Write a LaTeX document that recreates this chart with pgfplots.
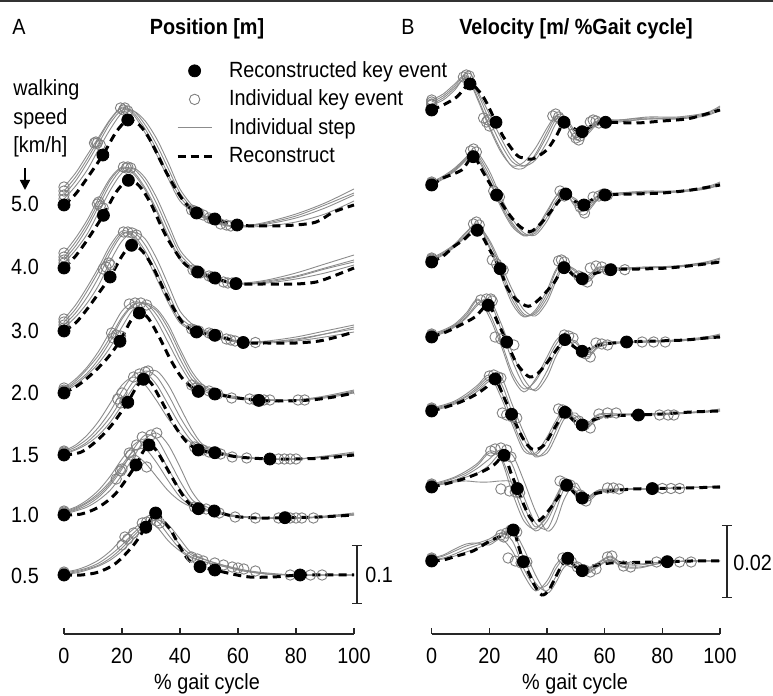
\documentclass[border=0pt]{standalone}
\usepackage{fontspec}
\setmainfont{Liberation Sans}[FakeStretch=0.9]
\usepackage{pgfplots}
\pgfplotsset{compat=1.18}
\usepackage{pgfplotstable}
\usetikzlibrary{arrows.meta}

\newcommand\fs{\fontsize{11}{13}\selectfont}

% ---------- Position (A), values in px above each speed's baseline ----------
\pgfplotstableread{
x g1 g2 g3 g4
0 18 10 6 14
4 32 24 19 28
8 50 42 35 46
12 68 62 56 66
16 86 82 76 85
20 98 95 92 97
24 92 94 94 90
28 76 80 84 72
32 55 60 66 50
36 30 36 42 26
40 8 12 16 4
45 -7 -5 -3 -8
50 -14 -13 -13 -15
56 -20 -20 -20 -21
62 -21 -21 -22 -21
70 -17 -19 -21 -18
80 -9 -13 -17 -11
90 2 -3 -9 0
100 16 10 4 12
}\AfiveG
\pgfplotstableread{
x y
0 0
4 11
8 27
13.4 50
18 73
22 85
26 80
29.7 65
35.4 32
41 5
45.7 -8
52 -14
59.7 -20
70 -21
80 -20
87 -17
93 -7
100 0
}\AfiveR
\pgfplotstableread{
x y
0 0
13.4 50
22 85
45.7 -8
52 -14
59.7 -20
}\AfiveF
\pgfplotstableread{
x y
0 18
0 10
0 6
0 14
11 63
11.5 62
12.5 60
10.5 62
19.5 97
20.5 95
22 94
21 97
44 -5
45 -6
46.5 -8
48 -10
50 -13
51 -14
52.5 -15
54 -19
56 -20
57.5 -21
}\AfiveO

\pgfplotstableread{
x g1 g2 g3 g4
0 15 8 5 11
4 30 22 18 26
8 48 40 34 44
12 70 62 56 66
16 90 84 78 88
20 101 99 95 100
24 96 99 100 94
28 80 86 90 78
32 58 64 70 56
36 32 38 44 30
40 10 14 18 8
45 -3 -1 2 -4
50 -9 -8 -7 -10
56 -14 -14 -14 -15
62 -15 -16 -16 -16
70 -12 -13 -15 -14
80 -5 -8 -11 -9
90 4 0 -5 -1
100 13 8 3 6
}\AfourG
\pgfplotstableread{
x y
0 0
4 12
8 28
13.6 53
18 76
22.2 88
26 82
30 64
35 33
41 6
46.1 -4
52 -10
59.3 -15.6
70 -16
80 -16
87 -14
93 -8
100 0
}\AfourR
\pgfplotstableread{
x y
0 0
13.6 52.7
22.2 87.7
46.1 -4
52 -10
59.3 -15.6
}\AfourF
\pgfplotstableread{
x y
0 15
0 8
0 5
0 11
12 66
12.5 62
13.5 60
11.5 64
20.5 101
21.5 100
23 100
22 101
44.5 -2
45.5 -3
47 -5
50 -8
51 -9
52.5 -11
55 -14
56.5 -15
58 -15
}\AfourO

\pgfplotstableread{
x g1 g2 g3 g4
0 12 6 3 9
4 26 18 14 22
8 44 34 28 40
12 64 54 46 60
16 86 78 70 82
20 100 96 90 98
24 96 99 99 94
28 80 86 92 76
32 58 64 72 52
36 32 38 46 28
40 10 14 20 8
45 1 3 5 0
50 -3 -2 -1 -3
56 -8 -8 -7 -9
62 -11 -11 -11 -12
70 -10 -11 -12 -11
80 -6 -8 -10 -9
90 0 -3 -6 -3
100 6 2 -1 4
}\AthreeG
\pgfplotstableread{
x y
0 0
4 8
8 22
12 38
15.9 54
20 75
23.3 86
27 80
31 62
36 32
41 8
45.7 -1
52 -4.3
61.8 -11.5
70 -12
80 -12
88 -10
94 -6
100 -1
}\AthreeR
\pgfplotstableread{
x y
0 0
15.9 54
23.3 85.7
45.7 -1
52 -4.3
61.8 -11.5
}\AthreeF
\pgfplotstableread{
x y
0 12
0 6
0 3
0 9
13.5 62
14.5 64
15.5 68
16 66
20.5 99
22 99
23.5 98
25 96
44 2
45 1
46.5 0
50 -2
51 -3
53 -4
56 -8
57.5 -9
59 -10
66 -11.5
}\AthreeO

\pgfplotstableread{
x g1 g2 g3 g4
0 5 2 3 1
4 14 10 12 8
8 26 20 24 18
12 42 34 38 30
16 62 52 56 46
20 82 74 76 66
24 91 88 89 84
28 88 90 89 90
32 72 78 82 84
36 50 58 64 68
40 28 34 40 44
44 10 14 18 22
48 2 4 6 8
54 -3 -2 -1 0
60 -6 -5 -5 -4
70 -7 -7 -7 -7
80 -7 -7 -7 -7
90 -4 -4 -3 -5
100 2 1 3 0
}\AtwoG
\pgfplotstableread{
x y
0 0
5 8
10 20
15 35
19.3 52
23 72
26 80
29 75
33 55
37 32
41 14
46.3 1.6
52 -1
60 -5
67.2 -7.4
75 -8
85 -7
93 -4
100 0
}\AtwoR
\pgfplotstableread{
x y
0 0
19.3 51.7
26 80
46.3 1.6
52 -1
67.2 -7.4
}\AtwoF
\pgfplotstableread{
x y
0 5
0 2
0 3
0 1
16.4 60
18 58
19.5 57
17 55
22.5 89
24.5 90
26.5 90
28.5 88
44 8
45.5 5
47 4
50 2
51.5 0
53 -1
57.8 -5
64 -6
66 -7
69 -7
71 -7
80.7 -7
83 -7
}\AtwoO

\pgfplotstableread{
x g1 g2 g3 g4
0 3 2 4 1
4 8 6 10 5
8 16 13 20 11
12 28 24 34 20
16 44 38 52 33
20 64 56 70 50
24 80 74 78 68
28 82 84 70 82
32 70 78 54 84
36 50 60 36 70
40 30 38 22 48
44 14 20 12 26
48 6 8 6 10
54 1 2 1 3
60 -2 -2 -2 -1
70 -4 -4 -4 -4
80 -4 -4 -4 -4
90 -2 -2 -1 -2
100 2 1 3 0
}\AofG
\pgfplotstableread{
x y
0 0
6 3
12 16
17 32
22 53
25 68
27.4 76
30 72
34 52
38 30
42 14
46.3 5
52 2.3
60 -2
71 -4
80 -4
90 -3
100 0
}\AofR
\pgfplotstableread{
x y
0 0
22 52.7
27.4 75.7
46.3 5
52 2.3
71 -4
}\AofF
\pgfplotstableread{
x y
0 3
0 2
0 4
0 1
18.5 56
19.5 52
21 54
20 62
24 78
26 81
28 83
29 84
45 8
46.5 6
48 5
50 3
52.5 2
54 1
58 -2
63 -3
74 -4
76 -4
78 -4
80 -4
}\AofO

\pgfplotstableread{
x g1 g2 g3 g4 g5
0 3 2 4 1 2
4 7 5 8 4 6
8 13 10 15 8 12
12 22 18 25 15 20
16 34 30 39 25 32
20 50 46 56 40 48
24 64 66 70 58 60
28 66 80 76 76 52
32 52 76 66 82 38
36 34 56 46 70 24
40 18 34 26 48 14
44 9 16 12 24 8
48 5 7 6 10 5
54 1 2 1 3 2
60 -2 -2 -2 -1 -1
70 -3 -3 -3 -3 -3
80 -3 -3 -3 -3 -3
90 -2 -2 -1 -2 -2
100 1 0 2 0 1
}\AoneG
\pgfplotstableread{
x y
0 0
6 1
12 8
18 22
24.8 50
27 62
29.3 70
32 64
36 44
40 24
43 12
46.3 6.3
51.8 4
58 -1
66 -3
76.2 -2.7
88 -2
100 0
}\AoneR
\pgfplotstableread{
x y
0 0
24.8 50
29.3 70
46.3 6.3
51.8 4
76.2 -2.7
}\AoneF
\pgfplotstableread{
x y
0 3
0 2
0 4
0 1
18 36
19.5 44
20 46
22.5 62
25 70
27 78
30 80
32 82
28.5 48
23 60
45 8
47 6
49 6
52 3
53.5 2
59 -2
66 -3
74 -3
78 -3
80 -3
82 -3
86 -3
}\AoneO

\pgfplotstableread{
x g1 g2 g3 g4
0 2 1 3 1
4 4 2 5 3
8 7 5 9 6
12 12 9 15 10
16 20 15 24 17
20 30 24 36 27
24 42 36 46 39
28 52 48 54 50
32 54 56 48 55
36 40 46 34 50
40 26 30 24 36
44 18 20 17 22
50 12 14 12 14
56 8 9 8 9
62 4 5 4 5
70 1 1 1 2
80 0 0 0 0
90 0 0 0 0
100 0 0 0 0
}\AhalfG
\pgfplotstableread{
x y
0 0
6 0
12 3
18 12
24 30
28.2 48
31.6 62
34 55
37 44
40 28
43 15
46.9 8.3
52 5
58 1
64 -2
72 -2
81.4 0
90 0
100 0
}\AhalfR
\pgfplotstableread{
x y
0 0
28.2 47.7
31.6 62
46.9 8.3
52 5
81.4 0
}\AhalfF
\pgfplotstableread{
x y
0 2
0 1
0 3
20 30
22 36
24 42
21 38
27 52
28.5 53
30 55
32 54
33 52
44 18
46 16
48 14
52 12
55 10
58 8
60 7
62 6
66 4
78 0
81 0
85 0
89 0
}\AhalfO

% ---------- Velocity (B), values in px above each speed's baseline ----------
\pgfplotstableread{
x g1 g2 g3 g4
0 8 5 10 6
4 14 10 16 12
8 24 20 26 22
12 34 33 35 32
16 10 16 12 18
20 -18 -10 -16 -4
24 -42 -34 -40 -28
28 -56 -52 -57 -48
32 -52 -56 -58 -56
36 -38 -46 -44 -50
40 -18 -26 -22 -32
43 -6 -10 -7 -14
46 -12 -8 -10 -6
50 -28 -24 -30 -22
54 -18 -22 -20 -24
58 -11 -12 -10 -13
65 -10 -11 -10 -12
75 -8 -9 -7 -9
85 -8 -8 -7 -9
95 -4 -5 -3 -6
100 3 1 4 0
}\BfiveG
\pgfplotstableread{
x y
0 0
4 5
8.7 13
13.3 26
17.9 13
22.3 -12.3
24.9 -27
29.5 -45
32 -48
35 -49
39.9 -40
43.4 -25
45.9 -12.3
49 -18
52.2 -21.7
56 -15
60.3 -12.3
71 -13
80 -11
88.4 -9
94 -5
100 0
}\BfiveR
\pgfplotstableread{
x y
0 0
13.3 26
22.3 -12.3
45.9 -12.3
52.2 -21.7
60.3 -12.3
}\BfiveF
\pgfplotstableread{
x y
0 8
0 5
0 10
0 6
11 33
12 35
12.5 32
13 34
18 -8
19 -12
20 -16
19.5 -10
42 -6
43 -4
44 -7
44.5 -9
49 -24
50 -28
51 -30
51.5 -26
55 -12
56 -10
57 -11
58 -13
}\BfiveO

\pgfplotstableread{
x g1 g2 g3 g4
0 3 1 2 0
4 9 7 8 6
8 17 15 16 14
12 28 26 27 25
14 34 33 35 32
16 26 30 28 32
20 4 10 6 14
24 -22 -16 -20 -12
28 -42 -38 -40 -34
32 -50 -50 -51 -48
36 -44 -48 -46 -50
40 -26 -32 -28 -36
43 -12 -16 -12 -20
46 -7 -8 -6 -10
50 -20 -16 -22 -14
54 -22 -24 -20 -26
58 -11 -13 -10 -14
65 -8 -9 -8 -10
75 -7 -7 -6 -8
85 -6 -7 -6 -7
95 -3 -4 -2 -4
100 2 1 3 0
}\BfourG
\pgfplotstableread{
x y
0 0
4 7
10.4 15
14.4 28.3
18 12
22.5 -10
26 -26
30 -40
34.1 -46.7
38 -38
42 -24
46.5 -9
49.5 -16
52.8 -20
56 -14
60.1 -10
70 -9
80 -8
90 -5
100 0
}\BfourR
\pgfplotstableread{
x y
0 0
14.4 28.3
22.5 -10
46.5 -9
52.8 -20
60.1 -10
}\BfourF
\pgfplotstableread{
x y
0 3
0 1
0 2
13.5 34
14.5 36
15.5 33
21.5 -6
22.5 -10
23.5 -12
44.5 -6
45.5 -9
46 -11
51.5 -22
52.5 -25
53 -28
56 -12
58 -11
59.5 -9
61 -10
}\BfourO

\pgfplotstableread{
x g1 g2 g3 g4
0 4 2 3 1
4 10 8 9 7
8 18 16 17 15
12 30 27 29 26
16 38 37 39 36
20 16 20 14 22
24 -10 -6 -14 -2
28 -38 -34 -42 -28
32 -54 -52 -55 -48
36 -50 -52 -48 -54
40 -32 -36 -28 -40
43 -10 -16 -8 -20
46 0 -2 1 -4
50 -14 -10 -16 -8
54 -16 -18 -14 -20
58 -6 -8 -5 -10
65 -6 -7 -6 -8
75 -5 -6 -5 -6
85 -4 -5 -4 -5
95 -1 -2 0 -2
100 3 1 4 0
}\BthreeG
\pgfplotstableread{
x y
0 0
4 6
7.5 15
11 22
15.8 31.7
20.2 11.7
23.7 -6.7
26 -25
29.5 -38
33.5 -44.3
37 -38
42.2 -21.6
45.9 -5.7
49 -13
52.2 -16.7
56 -12
62.1 -7.7
72 -7
82 -6
92 -3
100 0
}\BthreeR
\pgfplotstableread{
x y
0 0
15.8 31.7
23.7 -6.7
45.9 -5.7
52.2 -16.7
62.1 -7.7
}\BthreeF
\pgfplotstableread{
x y
0 4
0 2
0 3
14.5 38
15.5 40
16.5 37
21 2
22.5 -2
24 -6
24.8 -8
44 1
45 2
46 0
51 -14
52.5 -18
54 -20
55 -6
57 -4
59 -5
61 -8
67 -7.7
}\BthreeO

\pgfplotstableread{
x g1 g2 g3 g4
0 2 1 3 0
4 6 5 7 4
8 12 11 13 10
12 22 20 24 19
16 37 34 38 32
20 24 36 20 38
24 -4 8 -8 14
28 -36 -24 -40 -16
32 -52 -48 -55 -42
36 -44 -52 -42 -54
40 -24 -34 -20 -40
43 -8 -14 -4 -20
46 1 -2 2 -6
50 -10 -6 -12 -4
54 -16 -18 -14 -20
58 -7 -9 -6 -10
65 -5 -6 -5 -6
75 -4 -5 -4 -5
85 -3 -4 -3 -4
95 -1 -2 0 -2
100 2 0 3 0
}\BtwoG
\pgfplotstableread{
x y
0 0
5 5
10 12
15 20
19.6 31.7
23 14
26 -5
29 -24
31.5 -34
34.1 -40
37 -36
41 -22
43.5 -12
46.2 -2.6
49 -9
52.2 -14.3
56 -10
60 -7
67.6 -5
78 -4
88 -3
95 -1
100 0
}\BtwoR
\pgfplotstableread{
x y
0 0
19.6 31.7
26 -5
46.2 -2.6
52.2 -14.3
67.6 -5
}\BtwoF
\pgfplotstableread{
x y
0 2
0 1
0 3
17 37
19 38
20.5 38
21 36
22 0
24 -2
26 -6
28.5 -8
46 2
47.5 1
49 -1
52 -14
53.5 -17
55 -20
57 -6
59 -7
61 -8
73 -5
77 -5
81 -5
}\BtwoO

\pgfplotstableread{
x g1 g2 g3 g4
0 2 1 3 0
4 5 4 6 3
8 9 8 10 7
12 15 14 17 12
16 24 22 26 20
20 34 32 36 30
24 20 28 14 34
28 -10 -2 -14 6
32 -36 -28 -40 -22
36 -44 -46 -42 -44
40 -30 -38 -26 -42
43 -14 -20 -10 -26
46 0 -4 2 -8
50 -8 -5 -10 -2
54 -14 -16 -12 -16
58 -4 -6 -3 -7
65 -3 -4 -3 -4
75 -3 -3 -3 -4
85 -2 -2 -2 -3
95 -1 -1 0 -1
100 1 0 2 0
}\BofG
\pgfplotstableread{
x y
0 0
5 4
10 9
15 16
19 24
22 32
25 14
27.7 -3.3
31 -24
33.5 -35
35.8 -39
39 -34
42 -20
44.5 -8
46.2 -1.3
49 -9
52.2 -14
56 -9
62 -5
71.7 -4
80 -3
90 -1
100 0
}\BofR
\pgfplotstableread{
x y
0 0
22 32
27.7 -3.3
46.2 -1.3
52.2 -14
71.7 -4
}\BofF
\pgfplotstableread{
x y
0 2
0 1
0 3
20 35
21.5 36
23 34
24 33
24.5 -2
26 -4
28 -6
29.5 -7
44 2
45.5 1
47 -2
51 -10
53 -14
55 -17
58 -3
61 -2
64 -2
79 -4
82 -4
84 -4
}\BofO

\pgfplotstableread{
x g1 g2 g3 g4 g5
0 2 1 3 0 1
4 5 4 6 3 3
8 9 7 10 6 5
12 14 12 16 10 6
16 22 19 24 14 5
20 34 28 36 22 5
24 28 37 30 34 6
28 -6 22 2 32 4
32 -34 -10 -28 6 -20
36 -42 -36 -44 -24 -40
40 -28 -42 -34 -44 -30
43 -10 -24 -16 -36 -12
46 4 -2 2 -12 3
50 -4 0 -6 4 -5
54 -11 -12 -10 -14 -10
58 -4 -5 -3 -6 -3
65 -2 -2 -2 -3 -2
75 -2 -2 -2 -2 -2
85 -1 -1 -1 -1 -1
95 0 0 0 0 0
100 1 0 1 0 1
}\BoneG
\pgfplotstableread{
x y
0 0
6 4
12 9
18 16
22 23
25.1 31.7
27.5 14
29.7 -1.6
32 -18
34 -30
35.8 -35
38 -32
41 -22
44 -10
46.8 1.7
49.5 -6
52.2 -11
56 -7
62 -4
70 -2
76.5 -1.6
88 -1
100 0
}\BoneR
\pgfplotstableread{
x y
0 0
25.1 31.7
29.7 -1.6
46.8 1.7
52.2 -11
76.5 -1.6
}\BoneF
\pgfplotstableread{
x y
0 2
0 1
0 3
20.5 36
22 38
24 39
26 37
27.5 30
24 -2
27 -4
29 -5
30.5 -6
44.5 6
46 4
48 2
51.5 -8
52.5 -12
53.5 -14
61 -1
63 -1
65 -2
77 -1.5
80 -1.5
83 -1.5
86 -1.5
}\BoneO

\pgfplotstableread{
x g1 g2 g3 g4
0 2 1 3 0
4 5 3 6 2
8 10 7 12 5
12 15 12 17 9
16 18 16 18 13
20 22 20 16 18
24 28 25 22 24
28 20 30 10 31
32 -8 2 -14 12
36 -26 -22 -30 -14
40 -24 -30 -20 -32
43 -8 -16 -4 -22
46 2 -2 3 -6
50 -6 -4 -7 -1
54 -9 -11 -8 -12
58 -2 -4 -1 -5
62 4 2 5 1
66 -3 -5 -2 -6
72 -4 -6 -3 -7
80 -1 -2 -1 -2
90 0 0 0 0
100 0 0 0 0
}\BhalfG
\pgfplotstableread{
x y
0 0
4 1
8.7 5
14.3 10
20.2 20
24.8 26
28.3 31
30 16
31.8 -0.7
34 -14
36 -26
38.2 -34
40.5 -30
43 -16
45 -5
47.2 2.7
49.5 -5
52.2 -9.7
56 -5
62 -2
70 -1.5
81.7 -0.7
90 0
100 0
}\BhalfR
\pgfplotstableread{
x y
0 0
28.3 31
31.8 -0.7
47.2 2.7
52.2 -9.7
81.7 -0.7
}\BhalfF
\pgfplotstableread{
x y
0 2
0 1
0 3
24 26
26 28
27.5 31
29.5 29
25 24
26.5 3
29 0
31 -2
33 -1
45.5 3
47 1
48.5 -1
50.5 -6
53 -9
55 -11
57 -8
61 4
62.5 5
66.5 -5
69 -6
78 -1
82 -1
86 -1
90 -1
}\BhalfO

\pgfplotsset{
  gl/.style={color=black!45, line width=0.45pt, smooth, no markers},
  om/.style={only marks, mark=o, mark size=2.6pt, color=black!50, mark options={line width=0.45pt}},
  rl/.style={black, line width=1.5pt, dash pattern=on 4pt off 2.6pt, smooth, no markers},
  fm/.style={only marks, mark=*, mark size=3pt, black},
  panel/.style={
    scale only axis, height=299pt,
    xmin=0, xmax=100, ymin=62, ymax=660,
    axis y line=none, axis x line=bottom,
    axis line style={-, line width=0.75pt, black!85},
    xtick={0,20,40,60,80,100},
    tick align=inside, major tick length=3pt,
    tick style={line width=0.75pt, black!85},
    ticklabel style={font=\fs},
    xticklabel style={yshift=-3.5pt},
    /pgf/number format/assume math mode=true,
    clip=false,
  },
}

% one speed: individual steps, their key events, reconstruct, its key events
\newcommand\pnl[5]{%
  \addplot[gl, forget plot] table[x=x, y expr=\thisrow{g1}+#5] {#1};
  \addplot[gl, forget plot] table[x=x, y expr=\thisrow{g2}+#5] {#1};
  \addplot[gl, forget plot] table[x=x, y expr=\thisrow{g3}+#5] {#1};
  \addplot[gl, forget plot] table[x=x, y expr=\thisrow{g4}+#5] {#1};
  \addplot[om, forget plot] table[x=x, y expr=\thisrow{y}+#5] {#4};
  \addplot[rl, forget plot] table[x=x, y expr=\thisrow{y}+#5] {#2};
  \addplot[fm, forget plot] table[x=x, y expr=\thisrow{y}+#5] {#3};
}

\begin{document}
\begin{tikzpicture}[x=0.5pt, y=0.5pt]
\useasboundingbox (0,0) rectangle (773,696);
\draw[line width=1pt, black!80] (0,695.3) -- (773,695.3);

\begin{axis}[panel, at={(32pt,31pt)}, anchor=south west, width=145pt,
  legend style={at={(axis cs:38.5,639)}, anchor=north west, draw=none, fill=none,
    font=\fs, row sep=0.8pt, column sep=6pt, inner sep=0pt},
  legend cell align=left]
\addlegendimage{fm}\addlegendentry{Reconstructed key event}
\addlegendimage{om}\addlegendentry{Individual key event}
\addlegendimage{gl}\addlegendentry{Individual step}
\addlegendimage{rl}\addlegendentry{Reconstruct}
\pnl{\AfiveG}{\AfiveR}{\AfiveF}{\AfiveO}{491}
\pnl{\AfourG}{\AfourR}{\AfourF}{\AfourO}{428}
\pnl{\AthreeG}{\AthreeR}{\AthreeF}{\AthreeO}{365}
\pnl{\AtwoG}{\AtwoR}{\AtwoF}{\AtwoO}{303}
\pnl{\AofG}{\AofR}{\AofF}{\AofO}{241}
\addplot[gl, forget plot] table[x=x, y expr=\thisrow{g5}+181] {\AoneG};
\pnl{\AoneG}{\AoneR}{\AoneF}{\AoneO}{181}
\pnl{\AhalfG}{\AhalfR}{\AhalfF}{\AhalfO}{121}
\draw[{Bar[width=5pt]}-{Bar[width=5pt]}, line width=0.7pt, black!85]
  (axis cs:101,151) -- (axis cs:101,92);
\end{axis}

\begin{axis}[panel, at={(215.85pt,31pt)}, anchor=south west, width=144.15pt]
\pnl{\BfiveG}{\BfiveR}{\BfiveF}{\BfiveO}{586}
\pnl{\BfourG}{\BfourR}{\BfourF}{\BfourO}{511}
\pnl{\BthreeG}{\BthreeR}{\BthreeF}{\BthreeO}{434}
\pnl{\BtwoG}{\BtwoR}{\BtwoF}{\BtwoO}{359}
\pnl{\BofG}{\BofR}{\BofF}{\BofO}{285}
\addplot[gl, forget plot] table[x=x, y expr=\thisrow{g5}+209] {\BoneG};
\pnl{\BoneG}{\BoneR}{\BoneF}{\BoneO}{209}
\pnl{\BhalfG}{\BhalfR}{\BhalfF}{\BhalfO}{135}
\draw[{Bar[width=5pt]}-{Bar[width=5pt]}, line width=0.7pt, black!85]
  (axis cs:102.4,171) -- (axis cs:102.4,98);
\end{axis}

\begin{scope}[every node/.style={font=\fs, inner sep=0pt}]
\node[anchor=base west] at (12,661) {A};
\node[anchor=base, font=\fs\bfseries] at (207,661) {Position [m]};
\node[anchor=base west] at (401,661) {B};
\node[anchor=base, font=\fs\bfseries] at (576,661) {Velocity [m/ \%Gait cycle]};
\node[anchor=base west] at (13,600) {walking};
\node[anchor=base west] at (13,571) {speed};
\node[anchor=base west] at (13,543) {[km/h]};
\draw[-{Triangle[length=5pt, width=5pt]}, line width=0.8pt] (25,528) -- (25,506);
\node[anchor=base] at (25,484) {5.0};
\node[anchor=base] at (25,421) {4.0};
\node[anchor=base] at (25,357) {3.0};
\node[anchor=base] at (25,295) {2.0};
\node[anchor=base] at (25,233) {1.5};
\node[anchor=base] at (25,173) {1.0};
\node[anchor=base] at (25,112) {0.5};
\node[anchor=base west] at (365,113) {0.1};
\node[anchor=base west] at (733,125) {0.02};
\node[anchor=base] at (207,6) {\% gait cycle};
\node[anchor=base] at (575,6) {\% gait cycle};
\end{scope}
\end{tikzpicture}
\end{document}
